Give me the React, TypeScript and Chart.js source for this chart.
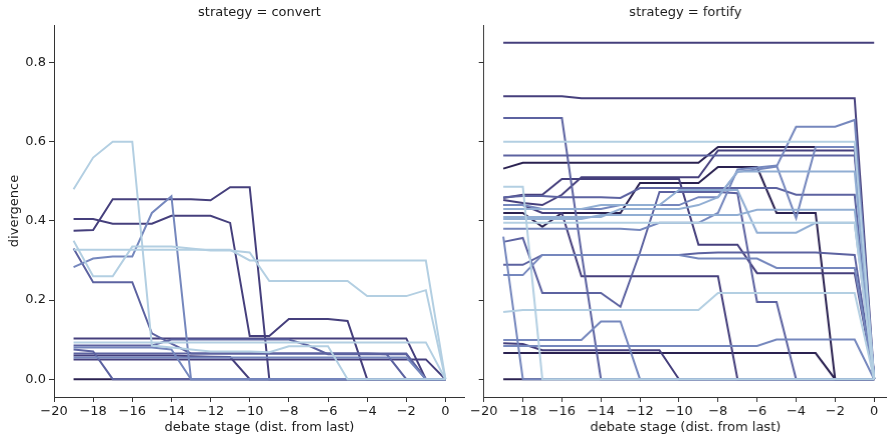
import React, { useEffect, useRef } from "react";
import { Chart, registerables } from "chart.js";
Chart.register(...registerables);

// debate stage (distance from last)
const stages = [-19, -18, -17, -16, -15, -14, -13, -12, -11, -10, -9, -8, -7, -6, -5, -4, -3, -2, -1, 0];
const xTicks = [-20, -18, -16, -14, -12, -10, -8, -6, -4, -2, 0];
const yTicks = [0, 0.2, 0.4, 0.6, 0.8];
const panelTitles = ["strategy = convert", "strategy = fortify"];

// hue shades, light to dark
const shades = ["#b3cfe2", "#91aed3", "#7587bd", "#5c62a0", "#453f7c", "#2a2150"];

// ---- strategy = convert ----
const convA = [0.48, 0.56, 0.60, 0.60, 0.085, 0.08, 0.075, 0.07, 0.07, 0.07, 0.068, 0.083, 0.083, 0.083, 0, 0, 0, 0, 0, 0];
const convB = [0.35, 0.26, 0.26, 0.335, 0.335, 0.335, 0.33, 0.325, 0.325, 0.32, 0.248, 0.248, 0.248, 0.248, 0.248, 0.21, 0.21, 0.21, 0.225, 0];
const convC = [0.327, 0.327, 0.327, 0.327, 0.327, 0.327, 0.327, 0.327, 0.327, 0.30, 0.30, 0.30, 0.30, 0.30, 0.30, 0.30, 0.30, 0.30, 0.30, 0];
const convD = [0.093, 0.093, 0.093, 0.093, 0.093, 0.093, 0.093, 0.093, 0.093, 0.093, 0.093, 0.093, 0.093, 0.093, 0.093, 0.093, 0.093, 0.093, 0.093, 0];
const convE = [0.283, 0.305, 0.31, 0.31, 0.42, 0.462, 0, 0, 0, 0, 0, 0, 0, 0, 0, 0, 0, 0, 0, 0];
const convF = [0.08, 0.08, 0.08, 0.08, 0.08, 0.075, 0, 0, 0, 0, 0, 0, 0, 0, 0, 0, 0, 0, 0, 0];
const convG = [0.33, 0.245, 0.245, 0.245, 0.116, 0.09, 0.065, 0.065, 0.065, 0.065, 0.065, 0.065, 0.065, 0.065, 0.065, 0.065, 0.065, 0.065, 0, 0];
const convH = [0.075, 0.07, 0, 0, 0, 0, 0, 0, 0, 0, 0, 0, 0, 0, 0, 0, 0, 0, 0, 0];
const convI = [0.065, 0.065, 0.065, 0.065, 0.065, 0.065, 0.065, 0.065, 0.065, 0.065, 0.065, 0.065, 0.065, 0.065, 0.065, 0.065, 0.063, 0, 0, 0];
const convJ = [0.085, 0.085, 0.085, 0.085, 0.085, 0.1, 0.1, 0.1, 0.1, 0.1, 0.1, 0.1, 0.085, 0.063, 0.063, 0.063, 0.063, 0.063, 0, 0];
const convK = [0.375, 0.377, 0.455, 0.455, 0.455, 0.455, 0.455, 0.452, 0.485, 0.485, 0, 0, 0, 0, 0, 0, 0, 0, 0, 0];
const convL = [0.405, 0.405, 0.393, 0.393, 0.393, 0.413, 0.413, 0.413, 0.395, 0.109, 0.109, 0.152, 0.152, 0.152, 0.147, 0, 0, 0, 0, 0];
const convM = [0.103, 0.103, 0.103, 0.103, 0.103, 0.103, 0.103, 0.103, 0.103, 0.103, 0.103, 0.103, 0.103, 0.103, 0.103, 0.103, 0.103, 0.103, 0, 0];
const convN = [0.06, 0.06, 0.06, 0.06, 0.06, 0.06, 0.058, 0.057, 0.056, 0, 0, 0, 0, 0, 0, 0, 0, 0, 0, 0];
const convO = [0.05, 0.05, 0.05, 0.05, 0.05, 0.05, 0.05, 0.05, 0.05, 0.05, 0.05, 0.05, 0.05, 0.05, 0.05, 0.05, 0.05, 0.05, 0.05, 0];
const convP = [0.055, 0.055, 0.055, 0.055, 0.055, 0.055, 0.055, 0.055, 0.055, 0.055, 0.055, 0.055, 0.055, 0.055, 0.055, 0.055, 0.055, 0.055, 0, 0];
const convQ = [0, 0, 0, 0, 0, 0, 0, 0, 0, 0, 0, 0, 0, 0, 0, 0, 0, 0, 0, 0];

// ---- strategy = fortify ----
const fortA = [0.85, 0.85, 0.85, 0.85, 0.85, 0.85, 0.85, 0.85, 0.85, 0.85, 0.85, 0.85, 0.85, 0.85, 0.85, 0.85, 0.85, 0.85, 0.85, 0.85];
const fortB = [0.715, 0.715, 0.715, 0.715, 0.71, 0.71, 0.71, 0.71, 0.71, 0.71, 0.71, 0.71, 0.71, 0.71, 0.71, 0.71, 0.71, 0.71, 0.71, 0];
const fortC = [0.66, 0.66, 0.66, 0.66, 0.32, 0, 0, 0, 0, 0, 0, 0, 0, 0, 0, 0, 0, 0, 0, 0];
const fortD = [0.60, 0.60, 0.60, 0.60, 0.60, 0.60, 0.60, 0.60, 0.60, 0.60, 0.60, 0.60, 0.60, 0.60, 0.60, 0.60, 0.60, 0.60, 0.60, 0];
const fortE = [0.565, 0.565, 0.565, 0.565, 0.565, 0.565, 0.565, 0.565, 0.565, 0.565, 0.565, 0.565, 0.565, 0.565, 0.565, 0.565, 0.565, 0.565, 0.565, 0];
const fortF = [0.532, 0.547, 0.547, 0.547, 0.547, 0.547, 0.547, 0.547, 0.547, 0.547, 0.547, 0.587, 0.587, 0.587, 0.587, 0.587, 0.587, 0.587, 0.587, 0];
const fortG = [0.458, 0.466, 0.466, 0.506, 0.506, 0.506, 0.506, 0.506, 0.506, 0.506, 0.34, 0.34, 0.34, 0.268, 0.268, 0.268, 0.268, 0.268, 0.268, 0];
const fortH = [0.453, 0.445, 0.44, 0.466, 0.51, 0.51, 0.51, 0.51, 0.51, 0.51, 0.51, 0.578, 0.578, 0.578, 0.578, 0.578, 0.578, 0.578, 0.578, 0];
const fortI = [0.42, 0.42, 0.385, 0.42, 0.42, 0.42, 0.42, 0.496, 0.496, 0.496, 0.496, 0.536, 0.536, 0.536, 0.42, 0.42, 0.42, 0, 0, 0];
const fortJ = [0.46, 0.463, 0.463, 0.46, 0.46, 0.46, 0.458, 0.483, 0.483, 0.483, 0.483, 0.483, 0.483, 0.483, 0.483, 0.466, 0.466, 0.466, 0.466, 0];
const fortK = [0.44, 0.44, 0.43, 0.43, 0.43, 0.43, 0.44, 0.44, 0.44, 0.44, 0.46, 0.46, 0.524, 0.53, 0.537, 0.638, 0.638, 0.638, 0.655, 0];
const fortL = [0.38, 0.38, 0.38, 0.38, 0.38, 0.38, 0.38, 0.377, 0.395, 0.395, 0.395, 0.42, 0.53, 0.535, 0.54, 0.407, 0.587, 0.587, 0.587, 0];
const fortM = [0.486, 0.486, 0, 0, 0, 0, 0, 0, 0, 0, 0, 0, 0, 0, 0, 0, 0, 0, 0, 0];
const fortN = [0.43, 0.43, 0.43, 0.43, 0.43, 0.44, 0.44, 0.44, 0.44, 0.478, 0.478, 0.478, 0.478, 0.37, 0.37, 0.37, 0.395, 0.395, 0.395, 0];
const fortO = [0.405, 0.405, 0.405, 0.405, 0.405, 0.415, 0.415, 0.415, 0.415, 0.415, 0.415, 0.415, 0.415, 0.428, 0.428, 0.428, 0.428, 0.428, 0.428, 0];
const fortP = [0.395, 0.395, 0.395, 0.395, 0.395, 0.395, 0.395, 0.395, 0.395, 0.395, 0.395, 0.395, 0.395, 0.395, 0.395, 0.395, 0.395, 0.395, 0.395, 0];
const fortQ = [0.289, 0.289, 0.314, 0.314, 0.314, 0.314, 0.314, 0.314, 0.314, 0.314, 0.318, 0.32, 0.32, 0.32, 0.32, 0.32, 0.32, 0.317, 0.314, 0];
const fortR = [0.263, 0.263, 0.314, 0.314, 0.314, 0.314, 0.314, 0.314, 0.314, 0.314, 0.305, 0.305, 0.305, 0.305, 0.281, 0.281, 0.281, 0.281, 0.281, 0];
const fortS = [0.44, 0.44, 0.42, 0.42, 0.26, 0.26, 0.26, 0.26, 0.26, 0.26, 0.26, 0.26, 0, 0, 0, 0, 0, 0, 0, 0];
const fortT = [0.347, 0.357, 0.218, 0.218, 0.218, 0.218, 0.183, 0.32, 0.473, 0.473, 0.473, 0.473, 0.47, 0.195, 0.195, 0, 0, 0, 0, 0];
const fortU = [0.17, 0.175, 0.175, 0.175, 0.175, 0.175, 0.175, 0.175, 0.175, 0.175, 0.175, 0.218, 0.218, 0.218, 0.218, 0.218, 0.218, 0.218, 0.218, 0];
const fortV = [0.099, 0.099, 0.099, 0.099, 0.099, 0.146, 0.146, 0, 0, 0, 0, 0, 0, 0, 0, 0, 0, 0, 0, 0];
const fortW = [0.091, 0.089, 0.073, 0.073, 0.073, 0.073, 0.073, 0.073, 0.073, 0, 0, 0, 0, 0, 0, 0, 0, 0, 0, 0];
const fortX = [0.084, 0.084, 0.084, 0.084, 0.084, 0.084, 0.084, 0.084, 0.084, 0.084, 0.084, 0.084, 0.084, 0.084, 0.1, 0.1, 0.1, 0.1, 0.1, 0];
const fortY = [0.066, 0.066, 0.066, 0.066, 0.066, 0.066, 0.066, 0.066, 0.066, 0.066, 0.066, 0.066, 0.066, 0.066, 0.066, 0.066, 0.066, 0, 0, 0];
const fortZ = [0, 0, 0, 0, 0, 0, 0, 0, 0, 0, 0, 0, 0, 0, 0, 0, 0, 0, 0, 0];
const fortAA = [0.36, 0, 0, 0, 0, 0, 0, 0, 0, 0, 0, 0, 0, 0, 0, 0, 0, 0, 0, 0];
const fortAB = [0.41, 0.41, 0.41, 0.41, 0.41, 0.41, 0.43, 0.43, 0.43, 0.43, 0.44, 0.46, 0.525, 0.525, 0.525, 0.525, 0.525, 0.525, 0.525, 0];

// [values, shade index] — drawn light first, dark last
const convertSeries: [number[], number][] = [
  [convA, 0], [convB, 0], [convC, 0], [convD, 0],
  [convE, 2], [convF, 2], [convP, 2],
  [convG, 3], [convH, 3], [convI, 3], [convJ, 3],
  [convK, 4], [convL, 4], [convM, 4], [convN, 4], [convO, 4],
  [convQ, 5],
];
const fortifySeries: [number[], number][] = [
  [fortD, 0], [fortM, 0], [fortP, 0], [fortU, 0],
  [fortN, 1], [fortO, 1], [fortAB, 1],
  [fortK, 2], [fortL, 2], [fortR, 2], [fortV, 2], [fortX, 2], [fortAA, 2],
  [fortC, 3], [fortE, 3], [fortJ, 3], [fortQ, 3], [fortT, 3],
  [fortA, 4], [fortB, 4], [fortG, 4], [fortH, 4], [fortS, 4], [fortW, 4],
  [fortF, 5], [fortI, 5], [fortY, 5], [fortZ, 5],
];

const FONT = "'DejaVu Sans', sans-serif";
const INK = "#1a1a1a";

function fmtX(v: number) {
  return v < 0 ? "\u2212" + Math.abs(v) : String(v);
}

function makeChart(canvas: HTMLCanvasElement, series: [number[], number][], title: string, left: boolean) {
  const xMax = left ? 1.0 : 0.66;
  const yAxisWidth = left ? 54 : 13;
  const titlePlugin = {
    id: "panelTitle",
    afterDraw(chart: any) {
      const { ctx, chartArea } = chart;
      ctx.save();
      ctx.font = `13px ${FONT}`;
      ctx.fillStyle = INK;
      ctx.textAlign = "center";
      ctx.textBaseline = "middle";
      ctx.fillText(title, (chartArea.left + chartArea.right) / 2, 13);
      ctx.restore();
    },
  };
  return new Chart(canvas, {
    type: "line",
    data: {
      datasets: series.map(([vals, s]) => ({
        data: stages.map((x, i) => ({ x, y: vals[i] })),
        borderColor: shades[s],
        backgroundColor: shades[s],
        borderWidth: 2,
        pointRadius: 0,
        tension: 0,
        fill: false,
      })),
    },
    options: {
      animation: false,
      responsive: false,
      maintainAspectRatio: false,
      events: [],
      layout: { padding: { top: 25, left: 0, right: 0, bottom: 0 } },
      plugins: { legend: { display: false }, tooltip: { enabled: false }, title: { display: false } },
      scales: {
        x: {
          type: "linear",
          min: -20,
          max: xMax,
          afterBuildTicks: (scale: any) => {
            scale.ticks = xTicks.map((v) => ({ value: v }));
          },
          afterFit: (scale: any) => {
            scale.height = 41;
          },
          ticks: {
            callback: (v: any) => fmtX(Number(v)),
            font: { family: FONT, size: 13 },
            color: INK,
            padding: 2,
            maxRotation: 0,
            autoSkip: false,
          },
          grid: { display: true, drawOnChartArea: false, drawTicks: true, tickLength: 5, color: "#333", lineWidth: 1 },
          border: { display: true, color: "#333", width: 1 },
          title: {
            display: true,
            text: "debate stage (dist. from last)",
            font: { family: FONT, size: 13 },
            color: INK,
            padding: { top: 0, bottom: 3 },
          },
        },
        y: {
          type: "linear",
          min: -0.045,
          max: 0.895,
          afterBuildTicks: (scale: any) => {
            scale.ticks = yTicks.map((v) => ({ value: v }));
          },
          afterFit: (scale: any) => {
            scale.width = yAxisWidth;
          },
          ticks: {
            display: left,
            callback: (v: any) => Number(v).toFixed(1),
            font: { family: FONT, size: 13 },
            color: INK,
            padding: 3,
          },
          grid: { display: true, drawOnChartArea: false, drawTicks: true, tickLength: 5, color: "#333", lineWidth: 1 },
          border: { display: true, color: "#333", width: 1 },
          title: {
            display: left,
            text: "divergence",
            font: { family: FONT, size: 13 },
            color: INK,
            padding: { top: 7, bottom: 0 },
          },
        },
      },
    },
    plugins: [titlePlugin],
  } as any);
}

export default function App() {
  const leftRef = useRef<HTMLCanvasElement>(null);
  const rightRef = useRef<HTMLCanvasElement>(null);
  useEffect(() => {
    const a = makeChart(leftRef.current!, convertSeries, panelTitles[0], true);
    const b = makeChart(rightRef.current!, fortifySeries, panelTitles[1], false);
    return () => {
      a.destroy();
      b.destroy();
    };
  }, []);
  return (
    <div style={{ position: "fixed", left: 0, top: 0, width: 887, height: 438, background: "#fff", overflow: "hidden" }}>
      <canvas ref={leftRef} width={465} height={438} style={{ position: "absolute", left: 0, top: 0, width: 465, height: 438 }} />
      <canvas ref={rightRef} width={417} height={438} style={{ position: "absolute", left: 468, top: 0, width: 419, height: 438 }} />
    </div>
  );
}
